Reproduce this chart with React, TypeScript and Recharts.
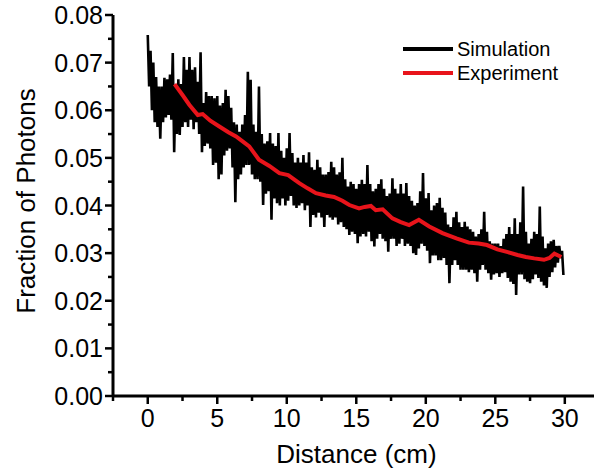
import React from 'react';
import { LineChart, Line, XAxis, YAxis, Label } from 'recharts';

// Simulation series: distance (cm), 0.1 cm steps
const simDistance = [
  0.0, 0.1, 0.2, 0.3, 0.4, 0.5, 0.6, 0.7, 0.8, 0.9,
  1.0, 1.1, 1.2, 1.3, 1.4, 1.5, 1.6, 1.7, 1.8, 1.9,
  2.0, 2.1, 2.2, 2.3, 2.4, 2.5, 2.6, 2.7, 2.8, 2.9,
  3.0, 3.1, 3.2, 3.3, 3.4, 3.5, 3.6, 3.7, 3.8, 3.9,
  4.0, 4.1, 4.2, 4.3, 4.4, 4.5, 4.6, 4.7, 4.8, 4.9,
  5.0, 5.1, 5.2, 5.3, 5.4, 5.5, 5.6, 5.7, 5.8, 5.9,
  6.0, 6.1, 6.2, 6.3, 6.4, 6.5, 6.6, 6.7, 6.8, 6.9,
  7.0, 7.1, 7.2, 7.3, 7.4, 7.5, 7.6, 7.7, 7.8, 7.9,
  8.0, 8.1, 8.2, 8.3, 8.4, 8.5, 8.6, 8.7, 8.8, 8.9,
  9.0, 9.1, 9.2, 9.3, 9.4, 9.5, 9.6, 9.7, 9.8, 9.9,
  10.0, 10.1, 10.2, 10.3, 10.4, 10.5, 10.6, 10.7, 10.8, 10.9,
  11.0, 11.1, 11.2, 11.3, 11.4, 11.5, 11.6, 11.7, 11.8, 11.9,
  12.0, 12.1, 12.2, 12.3, 12.4, 12.5, 12.6, 12.7, 12.8, 12.9,
  13.0, 13.1, 13.2, 13.3, 13.4, 13.5, 13.6, 13.7, 13.8, 13.9,
  14.0, 14.1, 14.2, 14.3, 14.4, 14.5, 14.6, 14.7, 14.8, 14.9,
  15.0, 15.1, 15.2, 15.3, 15.4, 15.5, 15.6, 15.7, 15.8, 15.9,
  16.0, 16.1, 16.2, 16.3, 16.4, 16.5, 16.6, 16.7, 16.8, 16.9,
  17.0, 17.1, 17.2, 17.3, 17.4, 17.5, 17.6, 17.7, 17.8, 17.9,
  18.0, 18.1, 18.2, 18.3, 18.4, 18.5, 18.6, 18.7, 18.8, 18.9,
  19.0, 19.1, 19.2, 19.3, 19.4, 19.5, 19.6, 19.7, 19.8, 19.9,
  20.0, 20.1, 20.2, 20.3, 20.4, 20.5, 20.6, 20.7, 20.8, 20.9,
  21.0, 21.1, 21.2, 21.3, 21.4, 21.5, 21.6, 21.7, 21.8, 21.9,
  22.0, 22.1, 22.2, 22.3, 22.4, 22.5, 22.6, 22.7, 22.8, 22.9,
  23.0, 23.1, 23.2, 23.3, 23.4, 23.5, 23.6, 23.7, 23.8, 23.9,
  24.0, 24.1, 24.2, 24.3, 24.4, 24.5, 24.6, 24.7, 24.8, 24.9,
  25.0, 25.1, 25.2, 25.3, 25.4, 25.5, 25.6, 25.7, 25.8, 25.9,
  26.0, 26.1, 26.2, 26.3, 26.4, 26.5, 26.6, 26.7, 26.8, 26.9,
  27.0, 27.1, 27.2, 27.3, 27.4, 27.5, 27.6, 27.7, 27.8, 27.9,
  28.0, 28.1, 28.2, 28.3, 28.4, 28.5, 28.6, 28.7, 28.8, 28.9,
  29.0, 29.1, 29.2, 29.3, 29.4, 29.5, 29.6, 29.7, 29.8, 29.9,
];
// Simulation series: fraction of photons
const simFraction = [
  0.0758, 0.0650, 0.0725, 0.0600, 0.0700, 0.0575, 0.0670, 0.0565, 0.0650, 0.0540,
  0.0650, 0.0575, 0.0668, 0.0585, 0.0665, 0.0590, 0.0675, 0.0580, 0.0720, 0.0512,
  0.0650, 0.0550, 0.0665, 0.0548, 0.0655, 0.0565, 0.0712, 0.0575, 0.0685, 0.0565,
  0.0712, 0.0580, 0.0685, 0.0560, 0.0690, 0.0575, 0.0660, 0.0550, 0.0722, 0.0512,
  0.0615, 0.0525, 0.0638, 0.0530, 0.0630, 0.0520, 0.0630, 0.0485, 0.0625, 0.0490,
  0.0630, 0.0455, 0.0610, 0.0465, 0.0615, 0.0505, 0.0643, 0.0515, 0.0630, 0.0520,
  0.0605, 0.0480, 0.0575, 0.0407, 0.0570, 0.0455, 0.0555, 0.0465, 0.0570, 0.0480,
  0.0590, 0.0485, 0.0681, 0.0485, 0.0664, 0.0465, 0.0570, 0.0455, 0.0555, 0.0455,
  0.0650, 0.0450, 0.0550, 0.0401, 0.0530, 0.0425, 0.0535, 0.0430, 0.0552, 0.0370,
  0.0530, 0.0415, 0.0525, 0.0405, 0.0552, 0.0400, 0.0515, 0.0415, 0.0500, 0.0400,
  0.0520, 0.0410, 0.0552, 0.0420, 0.0510, 0.0400, 0.0490, 0.0395, 0.0500, 0.0400,
  0.0490, 0.0405, 0.0506, 0.0390, 0.0490, 0.0400, 0.0512, 0.0355, 0.0480, 0.0380,
  0.0475, 0.0375, 0.0496, 0.0385, 0.0480, 0.0375, 0.0465, 0.0355, 0.0465, 0.0380,
  0.0470, 0.0375, 0.0492, 0.0370, 0.0480, 0.0375, 0.0465, 0.0360, 0.0470, 0.0365,
  0.0500, 0.0355, 0.0455, 0.0350, 0.0440, 0.0338, 0.0450, 0.0345, 0.0445, 0.0340,
  0.0435, 0.0321, 0.0445, 0.0335, 0.0454, 0.0340, 0.0445, 0.0335, 0.0485, 0.0345,
  0.0445, 0.0325, 0.0430, 0.0314, 0.0435, 0.0330, 0.0445, 0.0340, 0.0455, 0.0330,
  0.0435, 0.0325, 0.0420, 0.0303, 0.0425, 0.0330, 0.0457, 0.0330, 0.0435, 0.0315,
  0.0425, 0.0320, 0.0445, 0.0330, 0.0425, 0.0315, 0.0447, 0.0320, 0.0420, 0.0315,
  0.0410, 0.0300, 0.0400, 0.0296, 0.0405, 0.0310, 0.0430, 0.0320, 0.0468, 0.0315,
  0.0415, 0.0305, 0.0426, 0.0279, 0.0390, 0.0295, 0.0400, 0.0295, 0.0405, 0.0285,
  0.0416, 0.0285, 0.0395, 0.0290, 0.0385, 0.0275, 0.0360, 0.0237, 0.0355, 0.0275,
  0.0375, 0.0285, 0.0387, 0.0275, 0.0365, 0.0265, 0.0355, 0.0265, 0.0366, 0.0265,
  0.0356, 0.0260, 0.0350, 0.0265, 0.0345, 0.0258, 0.0335, 0.0240, 0.0340, 0.0265,
  0.0350, 0.0275, 0.0387, 0.0265, 0.0345, 0.0258, 0.0325, 0.0244, 0.0320, 0.0255,
  0.0320, 0.0258, 0.0320, 0.0250, 0.0315, 0.0258, 0.0330, 0.0260, 0.0340, 0.0248,
  0.0355, 0.0240, 0.0340, 0.0235, 0.0373, 0.0212, 0.0340, 0.0255, 0.0365, 0.0255,
  0.0440, 0.0245, 0.0345, 0.0240, 0.0320, 0.0237, 0.0330, 0.0245, 0.0345, 0.0255,
  0.0340, 0.0248, 0.0398, 0.0240, 0.0335, 0.0232, 0.0310, 0.0227, 0.0320, 0.0250,
  0.0325, 0.0260, 0.0328, 0.0270, 0.0315, 0.0280, 0.0315, 0.0290, 0.0305, 0.0254,
];

// Experiment series
const expDistance = [
  1.93, 2.5, 3.0, 3.6, 3.95, 4.5, 5.15, 5.8, 6.35, 6.8,
  7.3, 8.0, 8.75, 9.47, 10.1, 10.9, 11.5, 12.1, 12.8, 13.4,
  14.0, 14.5, 15.2, 15.6, 16.05, 16.4, 16.9, 17.6, 18.2, 18.8,
  19.5, 20.25, 21.2, 22.2, 23.1, 23.8, 24.4, 25.15, 25.9, 26.6,
  27.2, 27.8, 28.5, 28.9, 29.25, 29.75,
];
const expFraction = [
  0.0655, 0.0632, 0.0611, 0.0590, 0.0592, 0.0578, 0.0566, 0.0554, 0.0545, 0.0535,
  0.0524, 0.0496, 0.0483, 0.0468, 0.0464, 0.0447, 0.0436, 0.0426, 0.0421, 0.0418,
  0.0410, 0.0401, 0.0394, 0.0397, 0.0399, 0.0390, 0.0392, 0.0373, 0.0365, 0.0359,
  0.0370, 0.0356, 0.0342, 0.0331, 0.0322, 0.0320, 0.0317, 0.0308, 0.0302, 0.0296,
  0.0292, 0.0289, 0.0286, 0.0290, 0.0299, 0.0292,
];

const seriesNames = ['Simulation', 'Experiment'];
const seriesColors = ['#000000', '#e8141b'];

const xTicks = [-2.5, 0, 2.5, 5, 7.5, 10, 12.5, 15, 17.5, 20, 22.5, 25, 27.5, 30];
const xMajor = [0, 5, 10, 15, 20, 25, 30];
const yTicks = [
  0, 0.005, 0.01, 0.015, 0.02, 0.025, 0.03, 0.035, 0.04,
  0.045, 0.05, 0.055, 0.06, 0.065, 0.07, 0.075, 0.08,
];
const yMajor = [0, 0.01, 0.02, 0.03, 0.04, 0.05, 0.06, 0.07, 0.08];

const simData = simDistance.map((d, i) => ({ x: d, y: simFraction[i] }));
const expData = expDistance.map((d, i) => ({ x: d, y: expFraction[i] }));

const FONT = '"Liberation Sans", Arial, sans-serif';

const isMajor = (list: number[], v: number) => list.some((m) => Math.abs(m - v) < 1e-9);

const XTick = (props: any) => {
  const { x, y, payload } = props;
  const v = payload.value;
  const major = isMajor(xMajor, v);
  return (
    <g>
      <line x1={x} x2={x} y1={y} y2={y + (major ? 8 : 5)} stroke="#000" strokeWidth={2.5} />
      {major && (
        <text x={x} y={y + 31} textAnchor="middle" fontSize={25} fontFamily={FONT} fill="#000">
          {v}
        </text>
      )}
    </g>
  );
};

const YTick = (props: any) => {
  const { x, y, payload } = props;
  const v = payload.value;
  const major = isMajor(yMajor, v);
  return (
    <g>
      <line x1={x} x2={x - (major ? 8 : 5)} y1={y} y2={y} stroke="#000" strokeWidth={2.5} />
      {major && (
        <text x={x - 10} y={y} dy="0.36em" textAnchor="end" fontSize={25} fontFamily={FONT} fill="#000">
          {v.toFixed(2)}
        </text>
      )}
    </g>
  );
};

export default function App() {
  return (
    <div style={{ position: 'absolute', left: 0, top: 0, width: 594, height: 470, background: '#fff' }}>
      <LineChart width={594} height={470} margin={{ top: 15, right: 0, bottom: 0, left: 0 }}>
        <XAxis
          type="number"
          dataKey="x"
          domain={[-2.5, 32.1]}
          allowDataOverflow
          ticks={xTicks}
          interval={0}
          tickSize={0}
          tickMargin={0}
          tickLine={false}
          tick={<XTick />}
          height={74}
          axisLine={{ stroke: '#000', strokeWidth: 3 }}
        >
          <Label
            content={(p: any) => {
              const vb = p.viewBox;
              return (
                <text x={vb.x + vb.width / 2 + 3} y={463} textAnchor="middle" fontSize={26} fontFamily={FONT} fill="#000">
                  Distance (cm)
                </text>
              );
            }}
          />
        </XAxis>
        <YAxis
          type="number"
          dataKey="y"
          domain={[0, 0.08]}
          allowDataOverflow
          ticks={yTicks}
          interval={0}
          tickSize={0}
          tickMargin={0}
          tickLine={false}
          tick={<YTick />}
          width={113}
          axisLine={{ stroke: '#000', strokeWidth: 3 }}
        >
          <Label
            content={() => (
              <text
                x={26}
                y={201}
                transform="rotate(-90 26 201)"
                textAnchor="middle"
                dy="0.36em"
                fontSize={26}
                fontFamily={FONT}
                fill="#000"
              >
                Fraction of Photons
              </text>
            )}
          />
        </YAxis>
        <Line
          data={simData}
          dataKey="y"
          name={seriesNames[0]}
          stroke={seriesColors[0]}
          strokeWidth={2.6}
          dot={false}
          activeDot={false}
          isAnimationActive={false}
        />
        <Line
          data={expData}
          dataKey="y"
          name={seriesNames[1]}
          stroke={seriesColors[1]}
          strokeWidth={4}
          dot={false}
          activeDot={false}
          isAnimationActive={false}
        />
      </LineChart>
      <svg width={190} height={56} style={{ position: 'absolute', left: 400, top: 35 }}>
        {seriesNames.map((name, i) => (
          <g key={name}>
            <line x1={3} x2={53} y1={14 + i * 24} y2={14 + i * 24} stroke={seriesColors[i]} strokeWidth={4} />
            <text x={57} y={21 + i * 24} fontSize={20} fontFamily={FONT} fill="#000">
              {name}
            </text>
          </g>
        ))}
      </svg>
    </div>
  );
}
